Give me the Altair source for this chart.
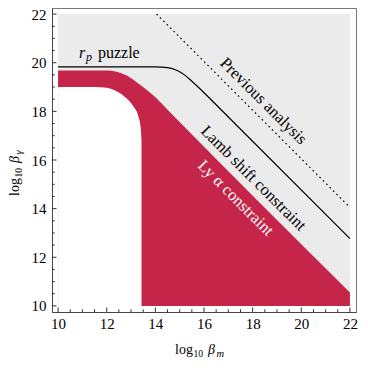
import altair as alt
import pandas as pd

FONT = "Liberation Serif"
RED = "#C42548"
GRAY = "#EBEBEB"

# axis ticks
major_ticks = [10, 12, 14, 16, 18, 20, 22]
minor_ticks = [10.5, 11, 11.5, 12.5, 13, 13.5, 14.5, 15, 15.5, 16.5, 17, 17.5,
               18.5, 19, 19.5, 20.5, 21, 21.5]

# Ly alpha constraint region (upper boundary)
red_top_x = [10, 12.0, 12.4, 12.8, 13.2, 13.6, 14.0, 14.5, 22]
red_top_y = [19.68, 19.68, 19.63, 19.48, 19.22, 18.92, 18.58, 18.07, 10.55]

# allowed (white) region lower-left boundary
white_x = [10, 11.5, 12.0, 12.4, 12.8, 13.1, 13.3, 13.4, 13.43]
white_y = [19.0, 19.0, 18.97, 18.83, 18.55, 18.2, 17.8, 17.3, 16.8]

# Lamb shift constraint / r_p puzzle line
lamb_x = [10, 14.0, 14.5, 14.9, 15.2, 15.5, 15.8, 16.2, 16.6, 22]
lamb_y = [19.83, 19.83, 19.80, 19.68, 19.50, 19.24, 18.96, 18.57, 18.17, 12.77]

# previous analysis (dotted)
prev_x = [14.05, 22]
prev_y = [22, 14.05]

W, H = 304, 304
DOM = [9.75, 22.25]

xs = alt.Scale(domain=DOM, nice=False, zero=False)
ys = alt.Scale(domain=DOM, nice=False, zero=False)

xaxis = alt.Axis(values=major_ticks, ticks=False, grid=False, title=None,
                 labelFont=FONT, labelFontSize=15, labelColor="black",
                 labelPadding=4, domainColor="#444", labelFlush=False)
yaxis = alt.Axis(values=major_ticks, ticks=False, grid=False, title=None,
                 labelFont=FONT, labelFontSize=15, labelColor="black",
                 labelPadding=6, domainColor="#444", labelFlush=False)

bg = alt.Chart(pd.DataFrame({"x": [10], "x2": [22], "y": [10], "y2": [22]})).mark_rect(
    color=GRAY, strokeWidth=0).encode(
    x=alt.X("x:Q", scale=xs, axis=xaxis), x2="x2:Q",
    y=alt.Y("y:Q", scale=ys, axis=yaxis), y2="y2:Q")

red = alt.Chart(pd.DataFrame({"x": red_top_x, "y": red_top_y})).mark_area(
    color=RED, interpolate="monotone").encode(
    x=alt.X("x:Q", scale=xs), y=alt.Y("y:Q", scale=ys), y2=alt.Y2(datum=10))

white = alt.Chart(pd.DataFrame({"x": white_x, "y": white_y})).mark_area(
    color="white", interpolate="monotone").encode(
    x=alt.X("x:Q", scale=xs), y=alt.Y("y:Q", scale=ys), y2=alt.Y2(datum=10))

lamb = alt.Chart(pd.DataFrame({"x": lamb_x, "y": lamb_y})).mark_line(
    color="black", strokeWidth=1.2, interpolate="monotone").encode(
    x=alt.X("x:Q", scale=xs), y=alt.Y("y:Q", scale=ys))

prev = alt.Chart(pd.DataFrame({"x": prev_x, "y": prev_y})).mark_line(
    color="black", strokeWidth=1.2, strokeDash=[1.6, 3.2]).encode(
    x=alt.X("x:Q", scale=xs), y=alt.Y("y:Q", scale=ys))

# inward ticks
def xticks(vals, length):
    return alt.Chart(pd.DataFrame({"v": vals})).mark_rule(color="#333", strokeWidth=1).encode(
        x=alt.X("v:Q", scale=xs), y=alt.value(H), y2=alt.value(H - length))

def yticks(vals, length):
    return alt.Chart(pd.DataFrame({"v": vals})).mark_rule(color="#333", strokeWidth=1).encode(
        y=alt.Y("v:Q", scale=ys), x=alt.value(0), x2=alt.value(length))

ticks = [xticks(major_ticks, 4.5), xticks(minor_ticks, 2.7),
         yticks(major_ticks, 4.5), yticks(minor_ticks, 2.7)]

# annotations
labels = pd.DataFrame({
    "x": [18.44, 18.03, 17.30],
    "y": [18.42, 15.25, 14.43],
    "t": ["Previous analysis", "Lamb shift constraint", "Ly \u03b1 constraint"],
    "c": ["black", "black", "white"],
})
ann = alt.Chart(labels).mark_text(font=FONT, fontSize=16.5, angle=45,
                                  align="center", baseline="middle").encode(
    x=alt.X("x:Q", scale=xs), y=alt.Y("y:Q", scale=ys), text="t:N",
    color=alt.Color("c:N", scale=None))

def dtext(t, x, y, size=16, style="normal"):
    return alt.Chart(pd.DataFrame({"t": [t], "x": [x], "y": [y]})).mark_text(
        font=FONT, fontSize=size, fontStyle=style, align="left",
        baseline="alphabetic", color="black").encode(
        x=alt.X("x:Q", scale=xs), y=alt.Y("y:Q", scale=ys), text="t:N")

rp = [dtext("r", 10.86, 20.2, 16, "italic"),
      dtext("p", 11.15, 20.08, 12, "italic"),
      dtext("puzzle", 11.64, 20.2, 16)]

def ptext(t, x, y, size, style="normal", angle=0):
    return alt.Chart(pd.DataFrame({"t": [t]})).mark_text(
        font=FONT, fontSize=size, fontStyle=style, align="left",
        baseline="alphabetic", color="black", angle=angle).encode(
        x=alt.value(x), y=alt.value(y), text="t:N")

xtitle = [ptext("log", 123, 346, 14), ptext("10", 141.5, 349, 9.5),
          ptext("\u03b2", 156, 346, 14, "italic"), ptext("m", 164.5, 349, 10.5, "italic")]
ytitle = [ptext("log", -33, 188, 14, angle=270), ptext("10", -30.5, 169.5, 9.5, angle=270),
          ptext("\u03b2", -33, 155, 14, "italic", angle=270),
          ptext("\u03b3", -30.5, 146.5, 10.5, "italic", angle=270)]

chart = alt.layer(bg, red, white, lamb, prev, ann, *rp, *ticks, *xtitle, *ytitle).properties(
    width=W, height=H,
    autosize=alt.AutoSizeParams(type="none"),
    padding={"left": 44, "top": 0, "right": 4, "bottom": 48},
).configure_view(stroke="#777", strokeWidth=1)

chart.save("out.html", embed_options={"renderer": "svg", "actions": False})
